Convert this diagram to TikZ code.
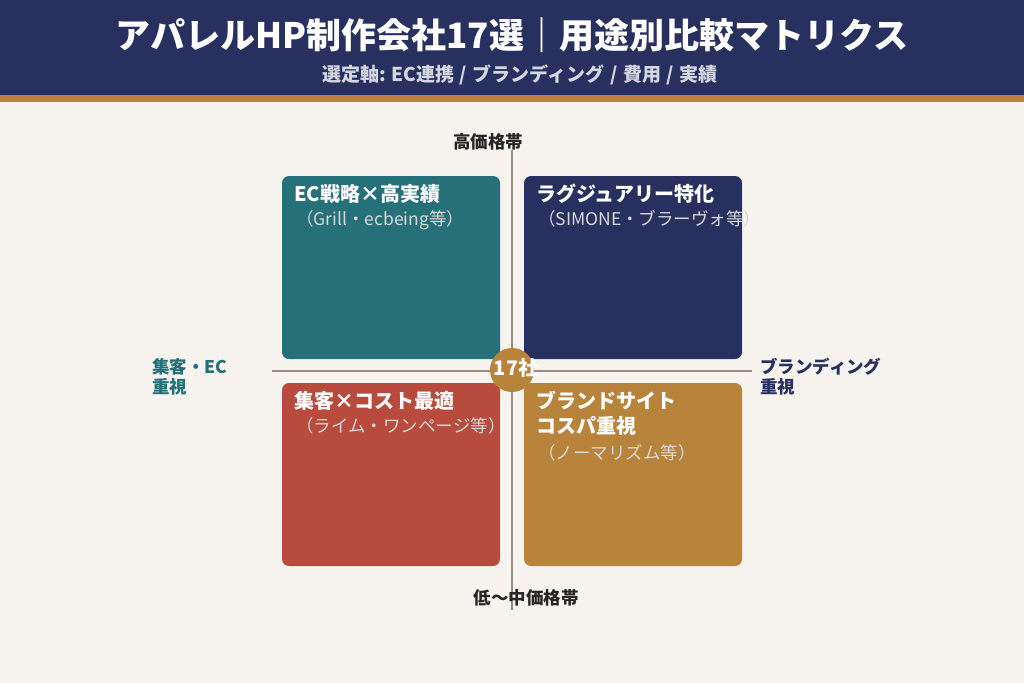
\documentclass[tikz,border=0pt]{standalone}
\usepackage{fontspec}
\setmainfont{Noto Sans CJK JP}
\definecolor{navy}{HTML}{283060}
\definecolor{gold}{HTML}{B8843C}
\definecolor{teal}{HTML}{26707A}
\definecolor{brick}{HTML}{B84B3E}
\definecolor{bg}{HTML}{F7F4EF}
\definecolor{axis}{HTML}{9A8A80}
\begin{document}
\begin{tikzpicture}[x=1pt,y=-1pt,
  quad/.style={rounded corners=7pt},
  qtitle/.style={anchor=north west,text=white,font=\bfseries\fontsize{20}{25}\selectfont,align=left,inner sep=0},
  qsub/.style={anchor=north west,text=white!85!black,font=\fontsize{17.5}{20}\selectfont,inner sep=0},
  axlab/.style={font=\bfseries\fontsize{17.5}{20}\selectfont,inner sep=0,align=left}]
\useasboundingbox (0,0) rectangle (1024,683);
\fill[bg] (0,0) rectangle (1024,683);
\fill[navy] (0,0) rectangle (1024,95);
\fill[gold] (0,95) rectangle (1024,102);
\node[text=white,font=\bfseries\fontsize{35}{38}\selectfont] (title) at (512,35) {アパレルHP制作会社17選｜用途別比較マトリクス};
\node[text=white!80!navy,font=\bfseries\fontsize{19}{22}\selectfont] (sub) at (520,75) {選定軸: EC連携\hspace{0.3em}/\hspace{0.3em}ブランディング\hspace{0.3em}/\hspace{0.3em}費用\hspace{0.3em}/\hspace{0.3em}実績};
\coordinate (vt) at (512,150); \coordinate (vb) at (512,610);
\coordinate (hl) at (272,371); \coordinate (hr) at (752,371);
\draw[axis,line width=1.2pt] (vt) -- (vb);
\draw[axis,line width=1.2pt] (hl) -- (hr);
\fill[quad,teal] (282,176) rectangle (500,359);
\fill[quad,navy] (524,176) rectangle (742,359);
\fill[quad,brick] (282,383) rectangle (500,566);
\fill[quad,gold] (524,383) rectangle (742,566);
\node[qtitle] (t1) at (294,184) {EC戦略×高実績};
\node[qsub] (s1) at (296,210) {（Grill・ecbeing等）};
\node[qtitle] (t2) at (536,184) {ラグジュアリー特化};
\node[qsub] (s2) at (538,210) {（SIMONE・ブラーヴォ等）};
\node[qtitle] (t3) at (294,391) {集客×コスト最適};
\node[qsub] (s3) at (296,417) {（ライム・ワンページ等）};
\node[qtitle] (t4) at (536,391) {ブランドサイト\\コスパ重視};
\node[qsub] (s4) at (538,444) {（ノーマリズム等）};
\fill[gold] (512,370) circle (22);
\node[text=white,font=\bfseries\fontsize{20}{22}\selectfont] (c) at (516,368) {17社};
\node[axlab,text=black!85] (top) at (488,142) {高価格帯};
\node[axlab,text=black!85] (bot) at (526,598) {低〜中価格帯};
\node[axlab,text=teal,anchor=west] (lft) at (152,377) {集客・EC\\重視};
\node[axlab,text=navy,anchor=west] (rgt) at (760,377) {ブランディング\\重視};
\end{tikzpicture}
\end{document}
